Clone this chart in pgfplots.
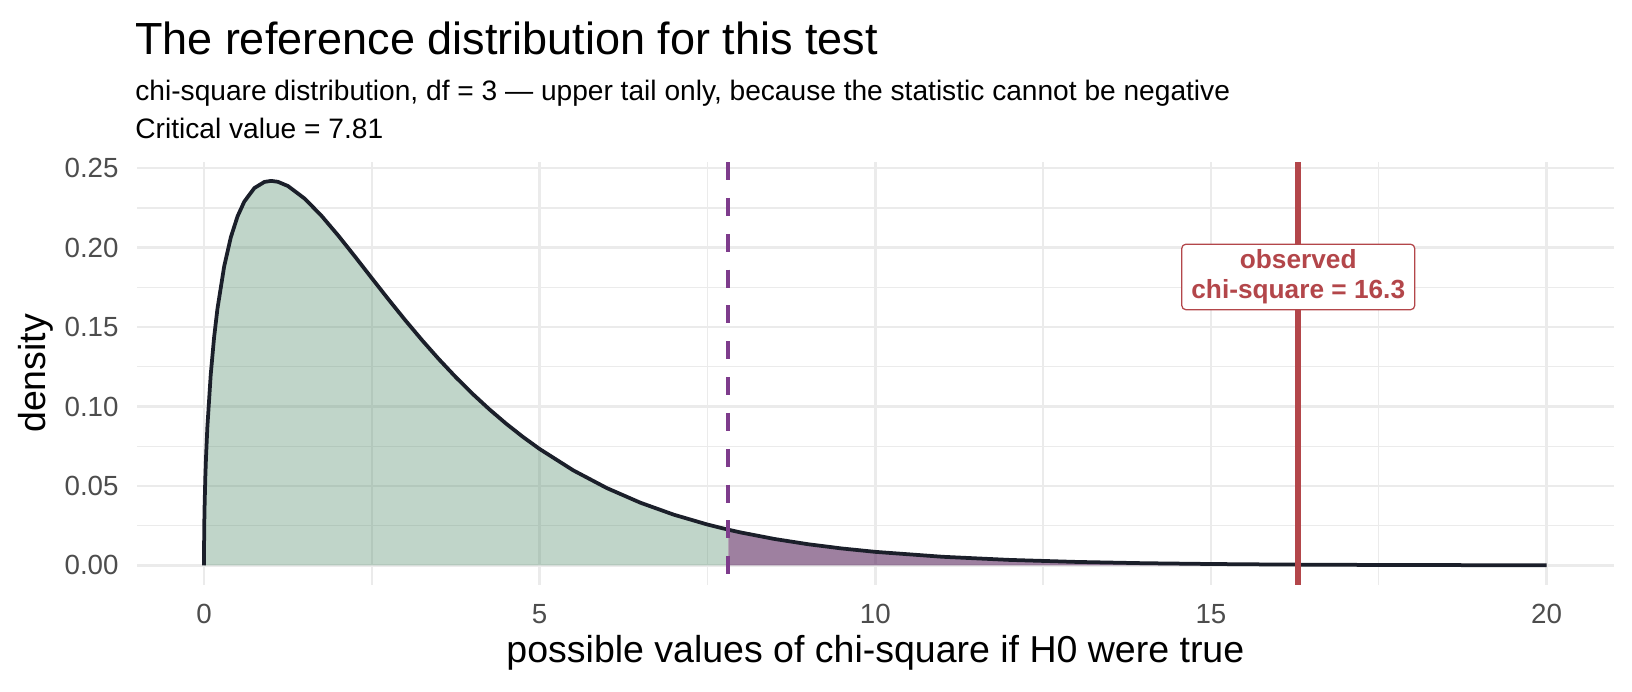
\documentclass[border=0pt]{standalone}
\usepackage{fontspec}
\setmainfont{Liberation Sans}
\usepackage{pgfplots}
\pgfplotsset{compat=1.18}

\definecolor{gridgrey}{HTML}{EBEBEB}
\definecolor{tickgrey}{HTML}{4D4D4D}
\definecolor{curveink}{HTML}{1B1F2A}
\definecolor{lowfill}{HTML}{4B8765}
\definecolor{tailfill}{HTML}{5D2B61}
\definecolor{critline}{HTML}{7E3C8C}
\definecolor{obsred}{HTML}{B3464A}

% chi-square density, df = 3
\pgfplotstableread{
x      y
0      0
0.002  0.01782
0.005  0.02814
0.01   0.03970
0.02   0.05586
0.03   0.06807
0.05   0.08700
0.1    0.12001
0.15   0.14335
0.2    0.16143
0.3    0.18807
0.4    0.20658
0.5    0.21969
0.6    0.22893
0.75   0.23745
0.9    0.24132
1      0.24197
1.1    0.24140
1.25   0.23874
1.5    0.23080
1.75   0.22000
2      0.20755
2.25   0.19428
2.5    0.18072
2.75   0.16727
3      0.15418
3.25   0.14162
3.5    0.12970
3.75   0.11847
4      0.10798
4.25   0.09823
4.5    0.08920
4.75   0.08087
5      0.07322
5.5    0.05981
6      0.04865
6.5    0.03944
7      0.03187
7.5    0.02569
7.81   0.02245
}\lowpart

\pgfplotstableread{
x      y
7.81   0.02245
8      0.02067
8.5    0.01659
9      0.01330
9.5    0.01064
10     0.00850
11     0.00541
12     0.00343
13     0.00216
14     0.00136
15     0.00086
16     0.00053
17     0.00033
18     0.00021
19     0.00013
20     0.00008
}\tailpart

\begin{document}
\begin{tikzpicture}[x=1pt,y=1pt]
\path[use as bounding box] (0,0) rectangle (783.36,-331.68);

\node[anchor=base west, inner sep=0pt, font=\fontsize{21.6}{26}\selectfont] at (64.6,-26)
  {The reference distribution for this test};
\node[anchor=base west, inner sep=0pt, font=\fontsize{13.5}{16}\selectfont] at (64.8,-48.4)
  {chi-square distribution, df = 3 — upper tail only, because the statistic cannot be negative};
\node[anchor=base west, inner sep=0pt, font=\fontsize{13.5}{16}\selectfont] at (64.8,-66.5)
  {Critical value = 7.81};

\begin{axis}[
    at={(65.7pt,-280.6pt)}, anchor=south west,
    scale only axis,
    width=708.9pt, height=202.8pt,
    xmin=-1, xmax=21,
    ymin=-0.0121, ymax=0.2538,
    axis line style={draw=none},
    tick style={draw=none},
    major tick length=0pt, minor tick length=0pt,
    xtick={0,5,10,15,20},
    xticklabels={0,5,10,15,20},
    minor xtick={2.5,7.5,12.5,17.5},
    ytick={0,0.05,0.1,0.15,0.2,0.25},
    yticklabels={0.00,0.05,0.10,0.15,0.20,0.25},
    minor ytick={0.025,0.075,0.125,0.175,0.225},
    grid=both,
    major grid style={gridgrey, line width=1.2pt},
    minor grid style={gridgrey, line width=0.65pt},
    xticklabel style={font=\fontsize{13.3}{16}\selectfont, text=tickgrey, anchor=north, inner sep=0pt, yshift=-9.4pt},
    yticklabel style={font=\fontsize{13.3}{16}\selectfont, text=tickgrey, anchor=east, inner sep=0pt, xshift=-8.6pt},
]
\addplot[draw=none, fill=lowfill, fill opacity=0.35] table[x=x, y=y] {\lowpart} \closedcycle;
\addplot[draw=none, fill=tailfill, fill opacity=0.6] table[x=x, y=y] {\tailpart} \closedcycle;
\addplot[curveink, line width=1.8pt, line join=round] table[x=x, y=y] {\lowpart};
\addplot[curveink, line width=1.8pt, line join=round] table[x=x, y=y] {\tailpart};
\addplot[critline, line width=2pt, dash pattern=on 8.6pt off 8.6pt] coordinates {(7.81,0.2538) (7.81,-0.0121)};
\addplot[obsred, line width=2.9pt] coordinates {(16.3,-0.0121) (16.3,0.2538)};
\node[draw=obsred, fill=white, rounded corners=2pt, line width=0.6pt, align=center,
      text=obsred, inner xsep=4.6pt, inner ysep=2.6pt,
      font=\fontsize{12.6}{14.5}\selectfont\bfseries] at (axis cs:16.3,0.1815)
  {observed\\chi-square = 16.3};
\end{axis}

\node[anchor=base, inner sep=0pt, font=\fontsize{18}{21}\selectfont] at (420.2,-318.2)
  {possible values of chi-square if H0 were true};
\node[anchor=base, rotate=90, inner sep=0pt, font=\fontsize{18}{21}\selectfont] at (21.6,-179.2)
  {density};
\end{tikzpicture}
\end{document}
